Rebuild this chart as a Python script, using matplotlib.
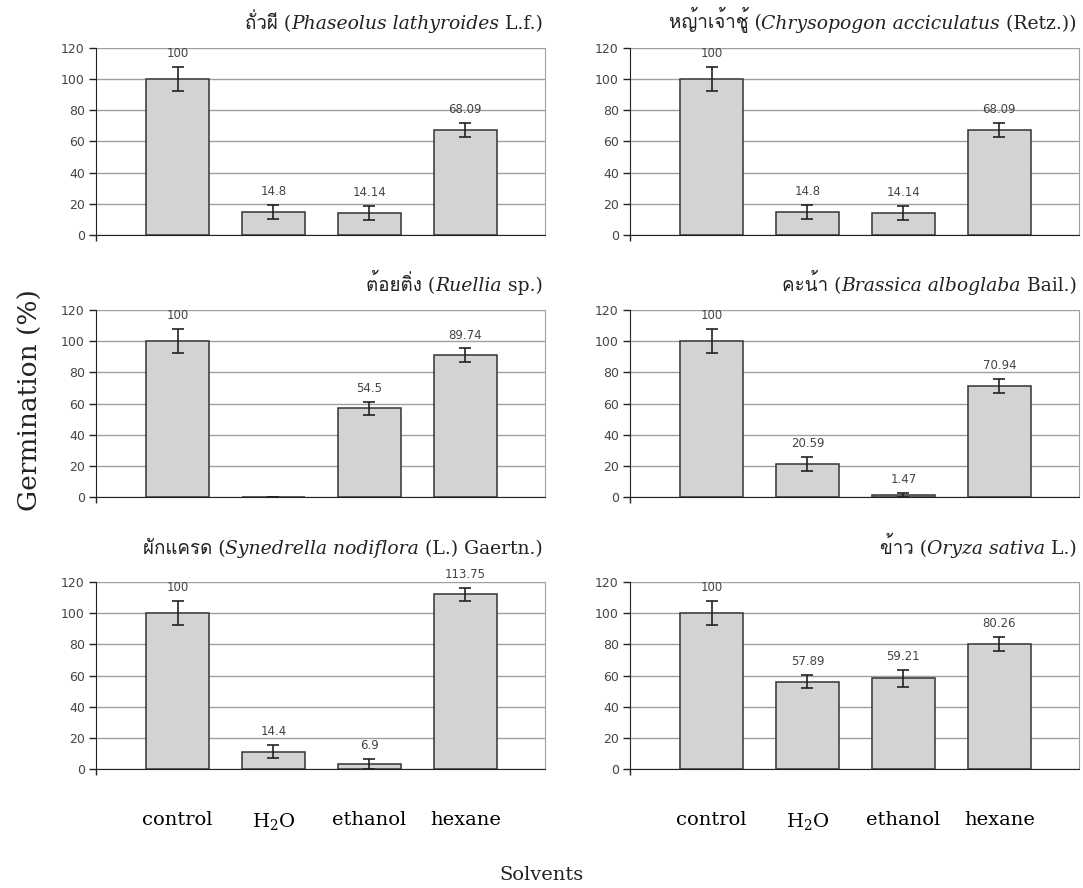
import numpy as np
import matplotlib
matplotlib.use('Agg')
import matplotlib.pyplot as plt
from matplotlib import font_manager
from matplotlib.ft2font import FT2Font

solvents = ['control', 'H$_2$O', 'ethanol', 'hexane']

thai_names = ['ถั่วผี', 'หญ้าเจ้าชู้', 'ต้อยติ่ง', 'คะน้า', 'ผักแครด', 'ข้าว']
sci_names = ['Phaseolus lathyroides', 'Chrysopogon acciculatus', 'Ruellia',
             'Brassica alboglaba', 'Synedrella nodiflora', 'Oryza sativa']
authors = ['L.f.', '(Retz.)', 'sp.', 'Bail.', '(L.) Gaertn.', 'L.']

# bar heights as drawn, error half-widths, and the printed value labels
phaseolus = [100, 14.8, 14.14, 67.3]
phaseolus_err = [7.8, 4.4, 4.4, 4.3]
phaseolus_lab = ['100', '14.8', '14.14', '68.09']

chrysopogon = [100, 14.8, 14.14, 67.3]
chrysopogon_err = [7.8, 4.4, 4.4, 4.3]
chrysopogon_lab = ['100', '14.8', '14.14', '68.09']

ruellia = [100, 0, 56.9, 90.9]
ruellia_err = [7.8, 0, 4.3, 4.4]
ruellia_lab = ['100', '', '54.5', '89.74']

brassica = [100, 21.1, 1.5, 71.3]
brassica_err = [7.8, 4.4, 1.3, 4.3]
brassica_lab = ['100', '20.59', '1.47', '70.94']

synedrella = [100, 11.2, 3.2, 112.1]
synedrella_err = [7.8, 4.3, 3.4, 4.3]
synedrella_lab = ['100', '14.4', '6.9', '113.75']

oryza = [100, 56.0, 58.2, 80.4]
oryza_err = [7.8, 4.3, 5.4, 4.4]
oryza_lab = ['100', '57.89', '59.21', '80.26']

values = [phaseolus, chrysopogon, ruellia, brassica, synedrella, oryza]
errors = [phaseolus_err, chrysopogon_err, ruellia_err, brassica_err, synedrella_err, oryza_err]
labels = [phaseolus_lab, chrysopogon_lab, ruellia_lab, brassica_lab, synedrella_lab, oryza_lab]


def find_thai_font():
    for f in font_manager.fontManager.ttflist:
        try:
            if 0x0E16 in FT2Font(f.fname).get_charmap():
                return f.name
        except Exception:
            pass
    return None


thai_font = find_thai_font()
serif = ['DejaVu Serif'] + ([thai_font] if thai_font else [])
plt.rcParams['mathtext.fontset'] = 'dejavuserif'

fig = plt.figure(figsize=(10.83, 8.88), dpi=100)

lefts = [0.0886, 0.5817]
bottoms = [0.7354, 0.4403, 0.1340]
w, h = 0.4146, 0.2106
x = np.arange(len(solvents))

for i in range(6):
    row, col = divmod(i, 2)
    ax = fig.add_axes([lefts[col], bottoms[row], w, h])
    bars = ax.bar(x, values[i], width=0.66, color='#d2d3d5', edgecolor='#333333',
                  linewidth=1.1, yerr=errors[i], zorder=3,
                  error_kw=dict(ecolor='#222222', elinewidth=1.2, capsize=4, capthick=1.2))
    ax.bar_label(bars, labels=labels[i], padding=5, fontsize=8.5, color='#444444')

    ax.set_ylim(0, 120)
    ax.set_xlim(-0.85, 3.83)
    ax.set_yticks(np.arange(0, 121, 20))
    ax.yaxis.grid(True, color='#a0a0a0', linewidth=1.0, zorder=0)
    ax.set_axisbelow(True)
    ax.spines['top'].set_visible(False)
    ax.spines['right'].set_color('#a0a0a0')
    ax.spines['left'].set_color('#222222')
    ax.spines['bottom'].set_color('#222222')
    ax.tick_params(axis='y', length=5, width=1, color='#222222', labelsize=9,
                   labelcolor='#444444', pad=3)
    ax.set_xticks(x)
    ax.set_xticks([-0.85], minor=True)
    ax.tick_params(axis='x', which='minor', length=4, width=1, color='#222222')
    if row == 2:
        ax.set_xticklabels(solvents, family=serif, fontsize=14)
        ax.tick_params(axis='x', which='major', length=0, pad=30)
    else:
        ax.set_xticklabels([])
        ax.tick_params(axis='x', which='major', length=0)

    # right-aligned title: thai name, italic species, author
    ty = 1.08 if row < 2 else 1.13
    t3 = ax.text(0.995, ty, ' ' + authors[i] + ')', transform=ax.transAxes,
                 ha='right', va='bottom', fontsize=13.5, family=serif, color='#222222')
    t2 = ax.annotate(sci_names[i], xy=(0, 0), xycoords=t3, ha='right', va='bottom',
                     fontsize=13.5, family=serif, style='italic', color='#222222')
    ax.annotate(thai_names[i] + ' (', xy=(0, 0), xycoords=t2, ha='right', va='bottom',
                fontsize=13.5, family=serif, color='#222222')

fig.text(0.028, 0.55, 'Germination (%)', rotation=90, ha='center', va='center',
         fontsize=19, family=serif, color='#222222')
fig.text(0.5, 0.015, 'Solvents', ha='center', va='center', fontsize=14,
         family=serif, color='#222222')

fig.savefig('out.png', dpi=100)
